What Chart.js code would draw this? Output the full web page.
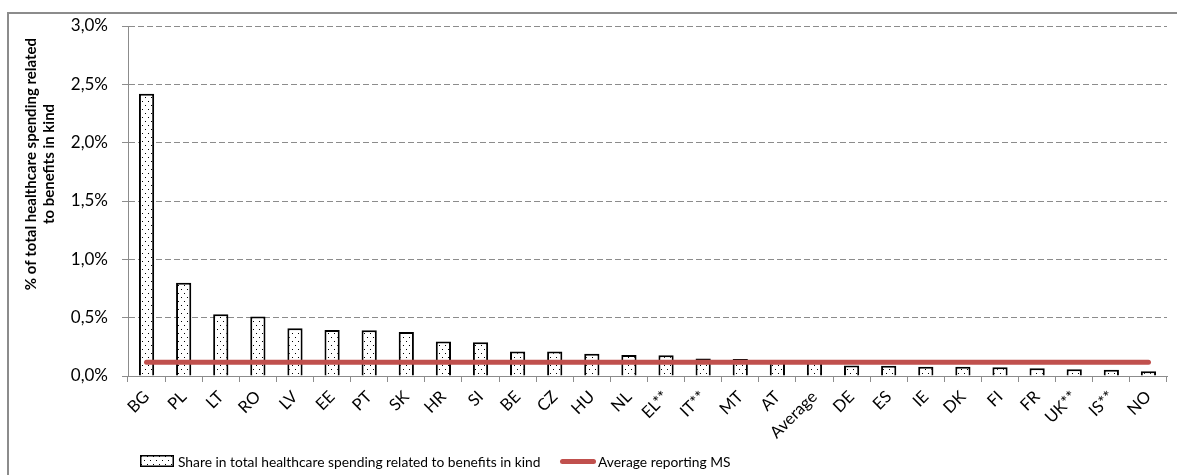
<!DOCTYPE html>
<html>
<head>
<meta charset="utf-8">
<script src="https://cdn.jsdelivr.net/npm/chart.js@4.4.1/dist/chart.umd.min.js"></script>
<style>
  html, body { margin: 0; padding: 0; background: #fff; }
  #wrap { position: relative; width: 1177px; height: 475px; overflow: hidden; }
  #frame { position: absolute; left: 7px; top: 12px; width: 1400px; height: 700px;
           border: 2px solid #8c8c8c; box-sizing: border-box; }
  #chart { position: absolute; left: 0; top: 0; }
  #legend { position: absolute; top: 451px; left: 140px; height: 20px;
            font-family: Lato, sans-serif; font-size: 13.8px; color: #000;
            display: flex; align-items: center; white-space: nowrap; }
  .item { display: flex; align-items: center; }
  #item1 { position: absolute; left: 420px; }
  #swatchBar { width: 34px; height: 12px; margin-right: 4px; display: block; }
  .swatchLine { width: 36px; height: 5px; border-radius: 3px; background: #C0504D; margin-right: 2px; }
</style>
</head>
<body>
<div id="wrap">
  <div id="frame"></div>
  <canvas id="chart" width="1177" height="475"></canvas>
  <div id="legend">
    <div class="item"><canvas id="swatchBar" width="34" height="12"></canvas><span id="lg0"></span></div>
    <div class="item" id="item1"><div class="swatchLine"></div><span id="lg1"></span></div>
  </div>
</div>
<script>
// Countries ordered by share of healthcare spending on benefits in kind (%)
const categories = ['BG', 'PL', 'LT', 'RO', 'LV', 'EE', 'PT', 'SK', 'HR', 'SI', 'BE', 'CZ', 'HU', 'NL',
  'EL**', 'IT**', 'MT', 'AT', 'Average', 'DE', 'ES', 'IE', 'DK', 'FI', 'FR', 'UK**', 'IS**', 'NO'];
const shareValues = [2.42, 0.80, 0.53, 0.51, 0.41, 0.395, 0.392, 0.378, 0.295, 0.289, 0.209, 0.209, 0.19, 0.179,
  0.178, 0.15, 0.146, 0.125, 0.117, 0.09, 0.088, 0.08, 0.08, 0.076, 0.067, 0.057, 0.054, 0.04];
const averageReportingMS = 0.117;
const averageLine = categories.map(() => averageReportingMS);
const yTickLabels = ['0,0%', '0,5%', '1,0%', '1,5%', '2,0%', '2,5%', '3,0%'];
const seriesNames = ['Share in total healthcare spending related to benefits in kind', 'Average reporting MS'];
const yTitleLines = ['% of total healthcare spending related', 'to benefits in kind'];

const FONT = 'Lato';

// Dotted fill used by the bars and their legend swatch
function makeDots(ctx) {
  const tile = document.createElement('canvas');
  tile.width = 6; tile.height = 8;
  const t = tile.getContext('2d');
  t.fillStyle = '#fff'; t.fillRect(0, 0, 6, 8);
  t.fillStyle = '#000';
  t.fillRect(1, 1, 1, 1);
  t.fillRect(4, 5, 1, 1);
  return ctx.createPattern(tile, 'repeat');
}

const ctx = document.getElementById('chart').getContext('2d');
const dots = makeDots(ctx);

// Legend swatch
const sw = document.getElementById('swatchBar').getContext('2d');
sw.fillStyle = makeDots(sw); sw.fillRect(0, 0, 34, 12);
sw.strokeStyle = '#000'; sw.lineWidth = 1.5; sw.strokeRect(0.75, 0.75, 32.5, 10.5);
document.getElementById('lg0').textContent = seriesNames[0];
document.getElementById('lg1').textContent = seriesNames[1];

// Two-line rotated title on the value axis
const yTitlePlugin = {
  id: 'yTitle',
  afterDraw(chart) {
    const c = chart.ctx;
    c.save();
    c.font = 'bold 15px ' + FONT;
    c.fillStyle = '#000';
    c.textAlign = 'center';
    c.textBaseline = 'middle';
    yTitleLines.forEach((line, i) => {
      c.save();
      c.translate(31 + i * 18, 164);
      c.rotate(-Math.PI / 2);
      c.fillText(line, 0, 0);
      c.restore();
    });
    c.restore();
  }
};

new Chart(ctx, {
  data: {
    labels: categories,
    datasets: [
      {
        type: 'line',
        label: seriesNames[1],
        data: averageLine,
        borderColor: '#C0504D',
        borderWidth: 5,
        borderCapStyle: 'round',
        pointRadius: 0,
        fill: false,
        order: 0
      },
      {
        type: 'bar',
        label: seriesNames[0],
        data: shareValues,
        backgroundColor: dots,
        borderColor: '#000',
        borderWidth: 2,
        barPercentage: 0.41,
        categoryPercentage: 1,
        order: 1
      }
    ]
  },
  options: {
    responsive: false,
    animation: false,
    layout: { padding: { top: 26, right: 10, left: 0, bottom: 0 } },
    plugins: { legend: { display: false }, tooltip: { enabled: false } },
    scales: {
      x: {
        offset: true,
        grid: { display: true, drawOnChartArea: false, drawTicks: true, tickLength: 6, color: '#8c8c8c', offset: true },
        border: { display: true, color: '#8c8c8c', width: 1 },
        ticks: { autoSkip: false, maxRotation: 45, minRotation: 45, color: '#000', padding: 5,
                 font: { family: FONT, size: 16.5 } },
        afterFit(scale) { scale.height = 99; }
      },
      y: {
        min: 0, max: 3,
        grid: { color: '#8c8c8c', tickLength: 6, drawTicks: true },
        border: { display: true, color: '#8c8c8c', width: 1, dash: [6, 3] },
        ticks: { stepSize: 0.5, color: '#000', padding: 14, font: { family: FONT, size: 17 },
                 callback: (v, i) => yTickLabels[i] },
        afterFit(scale) { scale.width = 128; }
      }
    }
  },
  plugins: [yTitlePlugin]
});
</script>
</body>
</html>
